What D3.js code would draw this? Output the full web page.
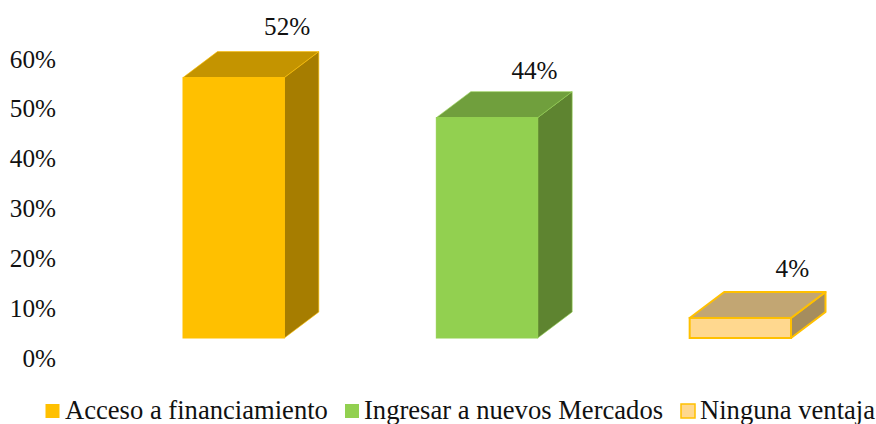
<!DOCTYPE html>
<html><head><meta charset="utf-8">
<script src="https://cdn.jsdelivr.net/npm/d3@7/dist/d3.min.js"></script>
<style>html,body{margin:0;padding:0;background:#fff}svg{display:block}text{font-family:"Liberation Serif",serif;fill:#111}</style>
</head><body><svg id="c" width="876" height="424"></svg>
<script>
const categories = ["Acceso a financiamiento","Ingresar a nuevos Mercados","Ninguna ventaja"];
const values = [52,44,4];
const valueLabels = ["52%","44%","4%"];
const yTicks = [0,10,20,30,40,50,60];
const frontColors = ["#FFC000","#92D050","#FFD88F"];
const topColors = ["#C49400","#709F3D","#C2A673"];
const sideColors = ["#A67D00","#5E8430","#A58D5E"];
const strokeColors = ["#FFC000","#92D050","#FFC000"];

const labelDx = [53.5,47.5,52];
const labelDy = [43,38.5,41];

const svg = d3.select("#c");
const fs = 25.2;
const y = d3.scaleLinear().domain([0,60]).range([358,59]);
const h = d3.scaleLinear().domain([0,60]).range([0,300.5]);
const x = d3.scaleBand().domain(categories).range([107,867]).paddingInner(0.6).paddingOuter(0.3);
const baseShift = 20, dx = 34.5, dy = 26;

const axis = svg.append("g").attr("transform","translate(56,0)")
  .call(d3.axisLeft(y).tickValues(yTicks).tickSize(0).tickPadding(0).tickFormat(d=>d+"%"));
axis.select(".domain").remove();
axis.selectAll("text").style("font-family",'"Liberation Serif",serif').style("font-size",fs+"px").attr("fill","#111");

const bars = svg.selectAll("g.bar").data(categories).join("g").attr("class","bar");
const path = (pts)=>d3.line()(pts)+"Z";
bars.each(function(c,i){
  const g = d3.select(this);
  const x0 = x(c), x1 = x0+x.bandwidth();
  const yb = y(0)-baseShift, yt = yb-h(values[i]);
  const sw = i===2?2:1;
  const so = i===2?1:.6;
  g.append("path").attr("d",path([[x1,yt],[x1+dx,yt-dy],[x1+dx,yb-dy],[x1,yb]])).attr("fill",sideColors[i]).attr("stroke",strokeColors[i]).attr("stroke-width",sw).attr("stroke-opacity",so).attr("stroke-linejoin","round");
  g.append("path").attr("d",path([[x0,yt],[x0+dx,yt-dy],[x1+dx,yt-dy],[x1,yt]])).attr("fill",topColors[i]).attr("stroke",strokeColors[i]).attr("stroke-width",sw).attr("stroke-opacity",so).attr("stroke-linejoin","round");
  g.append("rect").attr("x",x0).attr("y",yt).attr("width",x1-x0).attr("height",yb-yt).attr("fill",frontColors[i]).attr("stroke",strokeColors[i]).attr("stroke-width",sw);
  g.append("text").attr("x",x0+x.bandwidth()/2+labelDx[i]).attr("y",yt-labelDy[i]).attr("text-anchor","middle").style("font-size",fs+"px").text(valueLabels[i]);
});

const legendX = [45.5,345,681], legendTextX=[65,364,700];
const lg = svg.selectAll("g.lg").data(categories).join("g").attr("class","lg");
lg.append("rect").attr("x",(d,i)=>legendX[i]).attr("y",404).attr("width",14).attr("height",14).attr("fill",(d,i)=>frontColors[i]).attr("stroke",(d,i)=>i===2?"#FFC000":"none").attr("stroke-width",1.5);
lg.append("text").attr("x",(d,i)=>legendTextX[i]).attr("y",419).style("font-size","26.6px").text(d=>d);
</script></body></html>
